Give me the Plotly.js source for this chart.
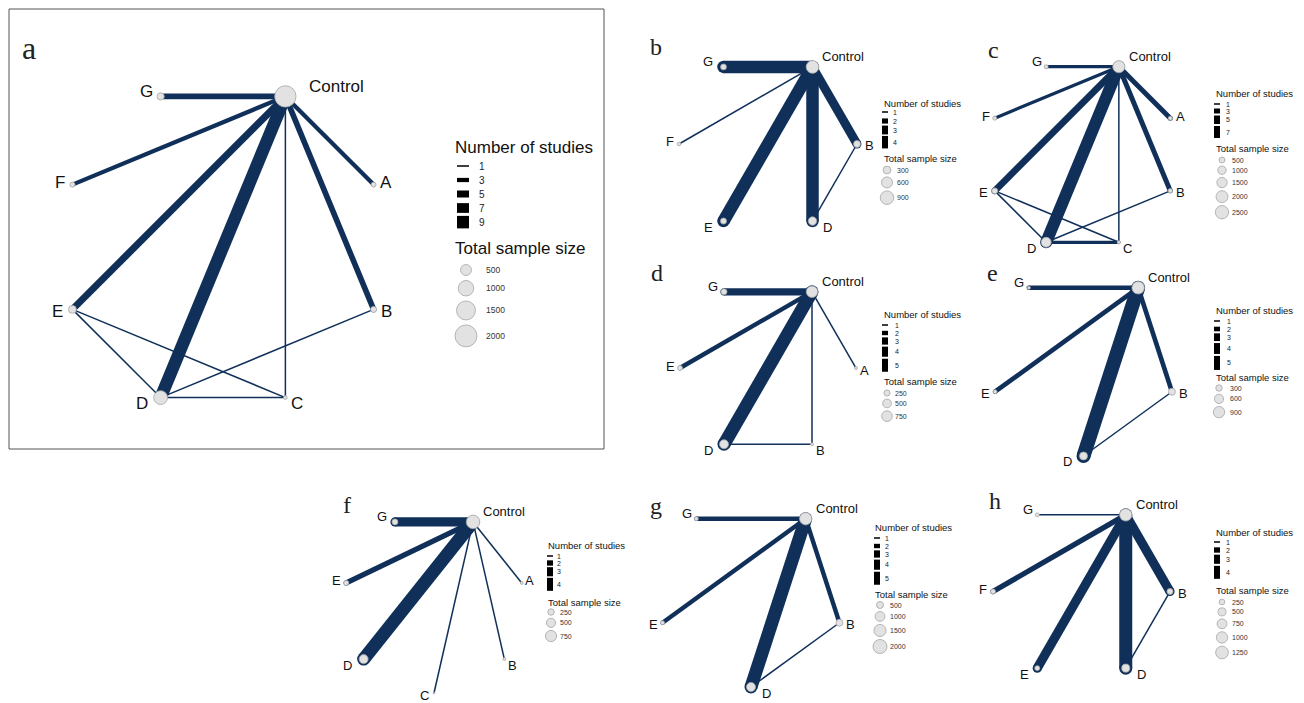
<!DOCTYPE html>
<html><head><meta charset="utf-8">
<script src="https://cdn.plot.ly/plotly-3.0.1.min.js"></script>
<style>html,body{margin:0;padding:0;background:#fff}#chart{width:1304px;height:703px}</style>
</head><body><div id="chart"></div>
<script>
// ================= DATA =================
// a
const nodesA = ["Control","G","F","E","D","C","B","A"];
const samplesA = [1900, 220, 110, 260, 800, 60, 150, 100];
const edgesA = [["Control","G",4],["Control","F",3],["Control","E",5],["Control","D",9],["Control","C",1],["Control","B",4],["Control","A",3],["E","D",1],["E","C",1],["D","C",1],["D","B",1]];
const studyBreaksA = [1,3,5,7,9];
const sampleBreaksA = [500,1000,1500,2000];
// b
const nodesB = ["Control","G","F","E","D","B"];
const samplesB = [800, 170, 70, 180, 350, 230];
const edgesB = [["Control","G",4],["Control","F",1],["Control","E",4],["Control","D",4],["Control","B",3],["D","B",1]];
const studyBreaksB = [1,2,3,4];
const sampleBreaksB = [300,600,900];
// c
const nodesC = ["Control","G","F","E","D","C","B","A"];
const samplesC = [2100, 230, 230, 500, 1400, 150, 280, 230];
const edgesC = [["Control","G",2],["Control","F",2],["Control","E",4],["Control","D",7],["Control","C",1],["Control","B",3],["Control","A",3],["E","D",1],["E","C",1],["D","C",2],["D","B",1]];
const studyBreaksC = [1,3,5,7];
const sampleBreaksC = [500,1000,1500,2000,2500];
// d
const nodesD = ["Control","G","E","D","B","A"];
const samplesD = [870, 240, 160, 530, 60, 60];
const edgesD = [["Control","G",3],["Control","E",2],["Control","D",5],["Control","B",1],["Control","A",1],["D","B",1]];
const studyBreaksD = [1,2,3,4,5];
const sampleBreaksD = [250,500,750];
// e
const nodesE = ["Control","G","E","D","B"];
const samplesE = [1100, 70, 110, 450, 340];
const edgesE = [["Control","G",2],["Control","E",2],["Control","D",5],["Control","B",2],["D","B",1]];
const studyBreaksE = [1,2,3,4,5];
const sampleBreaksE = [300,600,900];
// f
const nodesF = ["Control","G","E","D","C","B","A"];
const samplesF = [1100, 210, 150, 480, 20, 50, 50];
const edgesF = [["Control","G",3],["Control","E",2],["Control","D",4],["Control","C",1],["Control","B",1],["Control","A",1]];
const studyBreaksF = [1,2,3,4];
const sampleBreaksF = [250,500,750];
// g
const nodesG = ["Control","G","E","D","B"];
const samplesG = [1550, 160, 160, 830, 500];
const edgesG = [["Control","G",2],["Control","E",2],["Control","D",5],["Control","B",2],["D","B",1]];
const studyBreaksG = [1,2,3,4,5];
const sampleBreaksG = [500,1000,1500,2000];
// h
const nodesH = ["Control","G","F","E","D","B"];
const samplesH = [1170, 120, 190, 190, 500, 280];
const edgesH = [["Control","G",1],["Control","F",2],["Control","E",3],["Control","D",4],["Control","B",3],["D","B",1]];
const studyBreaksH = [1,2,3,4];
const sampleBreaksH = [250,500,750,1000,1250];

const panelLetters = ["a","b","c","d","e","f","g","h"];

// ================= LAYOUT / STYLE =================
const W = 1304, H = 703;
const EDGE = '#10305a';
const SANS = 'Liberation Sans, Arial, sans-serif';
const SERIF = 'Liberation Serif, Times New Roman, serif';

const panels = [
  {nodes:nodesA, samples:samplesA, edges:edgesA, sb:studyBreaksA, nb:sampleBreaksA},
  {nodes:nodesB, samples:samplesB, edges:edgesB, sb:studyBreaksB, nb:sampleBreaksB},
  {nodes:nodesC, samples:samplesC, edges:edgesC, sb:studyBreaksC, nb:sampleBreaksC},
  {nodes:nodesD, samples:samplesD, edges:edgesD, sb:studyBreaksD, nb:sampleBreaksD},
  {nodes:nodesE, samples:samplesE, edges:edgesE, sb:studyBreaksE, nb:sampleBreaksE},
  {nodes:nodesF, samples:samplesF, edges:edgesF, sb:studyBreaksF, nb:sampleBreaksF},
  {nodes:nodesG, samples:samplesG, edges:edgesG, sb:studyBreaksG, nb:sampleBreaksG},
  {nodes:nodesH, samples:samplesH, edges:edgesH, sb:studyBreaksH, nb:sampleBreaksH}
];

const small = {font:13, ctrlDx:8, base:6, letterSize:24, keyLen:6, titleSize:9.5, numSize:7, circNumSize:7, cpad:3};
const styles = [
  {cx:223, cy:247, r:163, wmax:12.5, k:0.49, font:17, ctrlDx:22, base:8.5, letter:[29,48], letterSize:32,
   leg:{x:453, nosY:147, keyX:463, keyLen:12, keyY0:166, numX:477, tssY:248, circX:466, circY0:270, circNumX:484, titleSize:17, numSize:10, circNumSize:8.5, hmin:14, pad:3, cpad:5}},
  Object.assign({}, small, {cx:768, cy:144, r:89, wmax:12.5, k:0.45, letter:[656,47],
   leg:{x:882, nosY:103, keyX:885, keyY0:112, numX:891, tssY:158, circX:887, circY0:170, circNumX:895, hmin:9, pad:1.5}}),
  Object.assign({}, small, {cx:1082.5, cy:154.5, r:95, wmax:12, k:0.266, letter:[993,50],
   leg:{x:1214, nosY:93, keyX:1217, keyY0:104, numX:1224, tssY:148, circX:1222, circY0:160, circNumX:1230, hmin:7, pad:2}}),
  Object.assign({}, small, {cx:768, cy:368, r:88, wmax:13, k:0.39, letter:[657,273],
   leg:{x:882, nosY:314, keyX:885, keyY0:325, numX:893, tssY:381, circX:887, circY0:393, circNumX:893, hmin:8, pad:2}}),
  Object.assign({}, small, {cx:1083.5, cy:363, r:93, wmax:14, k:0.377, letter:[992,273], side270:-1,
   leg:{x:1214, nosY:310, keyX:1217, keyY0:321, numX:1225, tssY:377, circX:1219, circY0:388, circNumX:1228, hmin:8, pad:2}}),
  Object.assign({}, small, {cx:434, cy:603, r:90, wmax:13, k:0.41, letter:[347,505], side270:-1, dy270:-2,
   leg:{x:546, nosY:545, keyX:550, keyY0:556, numX:555, tssY:602, circX:551, circY0:612, circNumX:558, hmin:7, pad:1.5}}),
  Object.assign({}, small, {cx:751, cy:594, r:93, wmax:13, k:0.313, letter:[656,506], side270:1,
   leg:{x:873, nosY:527, keyX:877, keyY0:538, numX:883, tssY:594, circX:880, circY0:605, circNumX:888, hmin:8, pad:2}}),
  Object.assign({}, small, {cx:1081.5, cy:591.5, r:88.5, wmax:13, k:0.36, letter:[995,501],
   leg:{x:1214, nosY:532, keyX:1217, keyY0:542, numX:1224, tssY:590, circX:1222, circY0:602, circNumX:1230, hmin:8, pad:2}})
];

const traces = [];
const annotations = [];
const layout = {
  width: W, height: H, margin:{l:0,r:0,t:0,b:0},
  paper_bgcolor:'#ffffff', plot_bgcolor:'rgba(0,0,0,0)',
  showlegend:false, hovermode:false,
  shapes:[{type:'rect', xref:'paper', yref:'paper', x0:9/W, x1:604/W, y0:1-449/H, y1:1-9/H, line:{color:'#555', width:1}}],
  annotations: annotations
};

const LX = 'x9', LY = 'y9';
layout.xaxis9 = {domain:[0,1], range:[0,W], visible:false, fixedrange:true, anchor:'y9'};
layout.yaxis9 = {domain:[0,1], range:[H,0], visible:false, fixedrange:true, anchor:'x9'};

panels.forEach((p, i) => {
  const st = styles[i];
  const ax = i === 0 ? '' : String(i+1);
  const xa = 'x'+ax, ya = 'y'+ax;
  const R = 1.3*st.r;
  const x0 = Math.max(0, st.cx-R), x1 = Math.min(W, st.cx+R);
  const y0 = Math.max(0, st.cy-R), y1 = Math.min(H, st.cy+R);
  layout['xaxis'+ax] = {domain:[x0/W, x1/W], range:[(x0-st.cx)/st.r, (x1-st.cx)/st.r], visible:false, fixedrange:true, anchor:ya};
  layout['yaxis'+ax] = {domain:[1-y1/H, 1-y0/H], range:[(st.cy-y1)/st.r, (st.cy-y0)/st.r], visible:false, fixedrange:true, anchor:xa};

  const n = p.nodes.length;
  const nmax = p.sb[p.sb.length-1];
  const w1 = 1.5;
  const wf = s => w1 + (st.wmax - w1) * (s - 1) / (nmax - 1);
  const df = v => st.k * Math.sqrt(v);
  const ang = p.nodes.map((_, j) => (90 - 180/n + j*360/n) * Math.PI/180);
  const px = ang.map(a => Math.cos(a));
  const py = ang.map(a => Math.sin(a));
  const idx = name => p.nodes.indexOf(name);

  const reff = p.nodes.map((nm, j) => {
    let r = df(p.samples[j]) / 2;
    p.edges.forEach(e => { if (e[0] === nm || e[1] === nm) r = Math.max(r, wf(e[2]) / 2); });
    return r;
  });

  p.edges.forEach(e => {
    const a = idx(e[0]), b = idx(e[1]);
    const w = wf(e[2]);
    traces.push({type:'scatter', mode:'lines+markers', x:[px[a], px[b]], y:[py[a], py[b]],
      xaxis:xa, yaxis:ya, line:{color:EDGE, width:w}, marker:{color:EDGE, size:w, opacity:1, line:{width:0}},
      hoverinfo:'skip', cliponaxis:false});
  });
  traces.push({type:'scatter', mode:'markers', x:px, y:py, xaxis:xa, yaxis:ya,
    marker:{size:p.samples.map(df), color:'#e2e2e2', opacity:1, line:{color:'#a6a6a6', width:0.8}},
    hoverinfo:'skip', cliponaxis:false});
  p.nodes.forEach((nm, j) => {
    if (nm === 'Control') {
      annotations.push({xref:xa, yref:ya, x:px[j], y:py[j], text:nm, showarrow:false,
        xanchor:'left', yanchor:'middle', xshift:st.ctrlDx, yshift:10,
        font:{family:SANS, size:st.font, color:'#111'}});
      return;
    }
    const mid = Math.abs(px[j]) <= 0.05;
    const side = px[j] < -0.05 ? -1 : (px[j] > 0.05 ? 1 : (st.side270 || -1));
    const dx = mid ? st.base + 3 + reff[j] : st.base + 1.5*reff[j];
    let dy = py[j] > 0.5 ? 5 : (py[j] < -0.5 ? -6 : Math.sign(py[j])*2);
    if (mid && st.dy270 !== undefined) dy = st.dy270;
    annotations.push({xref:xa, yref:ya, x:px[j], y:py[j], text:nm, showarrow:false,
      xanchor:'center', yanchor:'middle', xshift:side*dx, yshift:dy,
      font:{family:SANS, size:st.font, color:'#111'}});
  });

  annotations.push({xref:'paper', yref:'paper', x:st.letter[0]/W, y:1-st.letter[1]/H, text:panelLetters[i],
    showarrow:false, xanchor:'center', yanchor:'middle', font:{family:SERIF, size:st.letterSize, color:'#222'}});

  const L = Object.assign({}, small, st.leg);
  annotations.push({xref:LX, yref:LY, x:L.x, y:L.nosY, text:'Number of studies', showarrow:false,
    xanchor:'left', yanchor:'middle', font:{family:SANS, size:L.titleSize, color:'#111'}});
  let yy = L.keyY0;
  p.sb.forEach((s, q) => {
    if (q > 0) yy += Math.max(L.hmin, (wf(p.sb[q-1]) + wf(s))/2 + L.pad);
    traces.push({type:'scatter', mode:'lines', x:[L.keyX - L.keyLen/2, L.keyX + L.keyLen/2], y:[yy, yy],
      xaxis:LX, yaxis:LY, line:{color:'#000', width:wf(s)}, hoverinfo:'skip', cliponaxis:false});
    annotations.push({xref:LX, yref:LY, x:L.numX, y:yy, text:String(s), showarrow:false,
      xanchor:'left', yanchor:'middle', font:{family:SANS, size:L.numSize, color:'#222'}});
  });
  annotations.push({xref:LX, yref:LY, x:L.x, y:L.tssY, text:'Total sample size', showarrow:false,
    xanchor:'left', yanchor:'middle', font:{family:SANS, size:L.titleSize, color:'#111'}});
  let cy = L.circY0;
  const cys = [];
  p.nb.forEach((v, q) => {
    if (q > 0) cy += (df(p.nb[q-1]) + df(v))/2 + L.cpad;
    cys.push(cy);
    annotations.push({xref:LX, yref:LY, x:L.circNumX, y:cy, text:String(v), showarrow:false,
      xanchor:'left', yanchor:'middle', font:{family:SANS, size:L.circNumSize, color:'#333'}});
  });
  traces.push({type:'scatter', mode:'markers', x:p.nb.map(() => L.circX), y:cys, xaxis:LX, yaxis:LY,
    marker:{size:p.nb.map(df), color:'#e2e2e2', opacity:1, line:{color:'#a6a6a6', width:0.8}},
    hoverinfo:'skip', cliponaxis:false});
});

Plotly.newPlot('chart', traces, layout, {displayModeBar:false, staticPlot:true});
</script>
</body></html>
